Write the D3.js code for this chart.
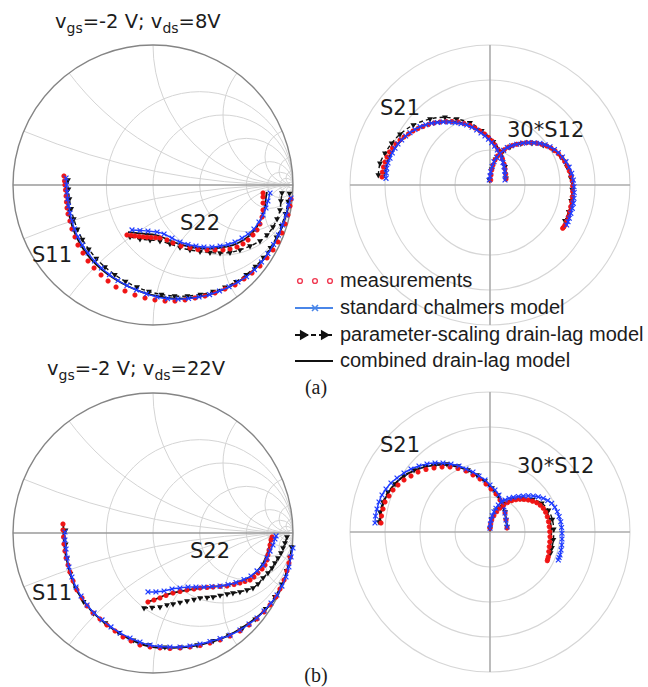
<!DOCTYPE html>
<html>
<head>
<meta charset="utf-8">
<script src="https://cdn.jsdelivr.net/npm/d3@7"></script>
<style>
  html, body { margin: 0; padding: 0; background: #fff; }
  svg { display: block; }
</style>
</head>
<body>
<svg id="fig" width="648" height="687"></svg>
<script>
// ---------------- bias points and labels ----------------
const biasVgs = ["-2", "-2"];
const biasVds = ["8", "22"];
const paramLabels = ["S11", "S22", "S21", "30*S12"];
const panelTags = ["(a)", "(b)"];
const legendLabels = [
  "measurements",
  "standard chalmers model",
  "parameter-scaling drain-lag model",
  "combined drain-lag model"
];

// Smith chart grid values (normalised resistance / reactance)
const gridResistance = [0.5, 1, 2, 5, 10, 20, 50];
const gridReactance = [0.2, 0.5, 1, 2, 5, 10, 20];
// polar chart rings (magnitude)
const polarRings = [1, 2, 3, 4];

// ---------------- bias (a): vgs=-2 V, vds=8 V ----------------
// reflection coefficients [re, im]
const s11MeasA = [[-0.636,0.064],[-0.632,0.029],[-0.629,0.000],[-0.625,-0.036],[-0.621,-0.079],[-0.618,-0.121],[-0.614,-0.164],[-0.607,-0.207],[-0.593,-0.257],[-0.579,-0.314],[-0.557,-0.371],[-0.536,-0.429],[-0.500,-0.486],[-0.464,-0.543],[-0.421,-0.593],[-0.371,-0.643],[-0.321,-0.686],[-0.264,-0.729],[-0.200,-0.757],[-0.129,-0.786],[-0.057,-0.807],[0.014,-0.821],[0.086,-0.829],[0.157,-0.829],[0.229,-0.821],[0.300,-0.807],[0.371,-0.793],[0.443,-0.771],[0.514,-0.743],[0.586,-0.714],[0.650,-0.671],[0.707,-0.629],[0.764,-0.579],[0.814,-0.521],[0.857,-0.464],[0.893,-0.407],[0.921,-0.343],[0.943,-0.279],[0.964,-0.214],[0.979,-0.150],[0.986,-0.100]];
const s11StdA = [[-0.621,0.050],[-0.618,0.000],[-0.614,-0.050],[-0.610,-0.100],[-0.603,-0.150],[-0.593,-0.200],[-0.579,-0.257],[-0.561,-0.314],[-0.536,-0.371],[-0.504,-0.429],[-0.464,-0.486],[-0.418,-0.543],[-0.368,-0.593],[-0.311,-0.640],[-0.250,-0.682],[-0.186,-0.718],[-0.118,-0.750],[-0.046,-0.778],[0.029,-0.800],[0.104,-0.812],[0.179,-0.815],[0.254,-0.811],[0.329,-0.800],[0.404,-0.783],[0.475,-0.757],[0.543,-0.727],[0.607,-0.693],[0.668,-0.655],[0.725,-0.605],[0.775,-0.550],[0.821,-0.490],[0.861,-0.425],[0.896,-0.357],[0.925,-0.286],[0.950,-0.214],[0.968,-0.143],[0.986,-0.093]];
const s11PscA = [[-0.607,0.036],[-0.604,-0.030],[-0.597,-0.100],[-0.585,-0.170],[-0.566,-0.243],[-0.540,-0.316],[-0.504,-0.389],[-0.459,-0.459],[-0.405,-0.525],[-0.343,-0.586],[-0.273,-0.640],[-0.196,-0.689],[-0.114,-0.729],[-0.029,-0.761],[0.061,-0.782],[0.154,-0.793],[0.246,-0.793],[0.339,-0.782],[0.429,-0.761],[0.514,-0.730],[0.593,-0.690],[0.666,-0.640],[0.732,-0.582],[0.789,-0.518],[0.839,-0.448],[0.882,-0.372],[0.918,-0.290],[0.946,-0.205],[0.966,-0.118],[0.975,-0.060]];
const s11CombA = [[-0.625,0.045],[-0.620,-0.050],[-0.610,-0.150],[-0.590,-0.250],[-0.556,-0.350],[-0.507,-0.443],[-0.443,-0.529],[-0.364,-0.605],[-0.275,-0.670],[-0.175,-0.725],[-0.068,-0.768],[0.043,-0.796],[0.157,-0.811],[0.271,-0.807],[0.386,-0.786],[0.496,-0.750],[0.596,-0.700],[0.686,-0.636],[0.764,-0.561],[0.832,-0.475],[0.886,-0.382],[0.929,-0.282],[0.961,-0.179],[0.982,-0.090]];

const s22MeasA = [[-0.186,-0.357],[-0.157,-0.360],[-0.129,-0.364],[-0.100,-0.367],[-0.071,-0.371],[-0.043,-0.373],[-0.014,-0.375],[0.018,-0.377],[0.050,-0.379],[0.100,-0.393],[0.143,-0.414],[0.200,-0.436],[0.264,-0.450],[0.321,-0.461],[0.386,-0.464],[0.443,-0.464],[0.500,-0.464],[0.550,-0.457],[0.600,-0.443],[0.643,-0.421],[0.679,-0.393],[0.714,-0.357],[0.743,-0.321],[0.764,-0.279],[0.779,-0.229],[0.786,-0.179],[0.786,-0.129],[0.786,-0.086],[0.786,-0.057]];
const s22StdA = [[-0.150,-0.321],[-0.093,-0.325],[-0.036,-0.329],[0.029,-0.336],[0.079,-0.350],[0.136,-0.379],[0.193,-0.407],[0.250,-0.425],[0.307,-0.436],[0.364,-0.443],[0.421,-0.443],[0.479,-0.436],[0.536,-0.425],[0.586,-0.407],[0.636,-0.379],[0.679,-0.350],[0.721,-0.314],[0.757,-0.264],[0.786,-0.214],[0.807,-0.164],[0.821,-0.114],[0.836,-0.057]];
const s22PscA = [[-0.164,-0.371],[-0.093,-0.386],[-0.021,-0.393],[0.050,-0.400],[0.121,-0.421],[0.193,-0.446],[0.264,-0.464],[0.336,-0.475],[0.407,-0.482],[0.479,-0.486],[0.550,-0.482],[0.621,-0.464],[0.693,-0.436],[0.764,-0.400],[0.814,-0.357],[0.857,-0.300],[0.886,-0.243],[0.907,-0.179],[0.914,-0.114],[0.921,-0.057]];
const s22CombA = [[-0.179,-0.336],[-0.114,-0.343],[-0.050,-0.350],[0.014,-0.357],[0.071,-0.375],[0.129,-0.400],[0.186,-0.421],[0.250,-0.439],[0.321,-0.450],[0.393,-0.454],[0.464,-0.450],[0.536,-0.439],[0.600,-0.418],[0.657,-0.386],[0.707,-0.343],[0.750,-0.286],[0.779,-0.221],[0.800,-0.150],[0.807,-0.086],[0.814,-0.050]];

// transmission coefficients [re, im]
const s21MeasA = [[-3.086,0.229],[-3.071,0.371],[-3.043,0.514],[-3.000,0.657],[-2.943,0.800],[-2.871,0.943],[-2.786,1.057],[-2.686,1.171],[-2.571,1.286],[-2.457,1.371],[-2.329,1.457],[-2.200,1.543],[-2.057,1.614],[-1.914,1.671],[-1.757,1.729],[-1.600,1.771],[-1.429,1.800],[-1.257,1.814],[-1.086,1.814],[-0.914,1.800],[-0.743,1.757],[-0.571,1.700],[-0.429,1.629],[-0.286,1.543],[-0.157,1.457],[-0.043,1.357],[0.057,1.257],[0.143,1.143],[0.229,1.014],[0.300,0.886],[0.357,0.743],[0.400,0.600],[0.429,0.457],[0.449,0.314],[0.457,0.171]];
const s21StdA = [[-2.971,0.191],[-2.963,0.343],[-2.951,0.477],[-2.914,0.629],[-2.857,0.763],[-2.791,0.914],[-2.714,1.049],[-2.629,1.171],[-2.523,1.286],[-2.409,1.400],[-2.286,1.494],[-2.143,1.586],[-2.000,1.666],[-1.837,1.720],[-1.666,1.763],[-1.500,1.786],[-1.334,1.800],[-1.171,1.794],[-1.000,1.780],[-0.829,1.751],[-0.666,1.714],[-0.514,1.649],[-0.380,1.571],[-0.257,1.486],[-0.143,1.400],[-0.043,1.306],[0.049,1.209],[0.134,1.106],[0.209,1.000],[0.277,0.886],[0.334,0.763],[0.371,0.643],[0.400,0.523],[0.420,0.400],[0.429,0.286],[0.429,0.143]];
const s21PscA = [[-3.191,0.286],[-3.143,0.620],[-3.000,0.906],[-2.809,1.191],[-2.571,1.449],[-2.191,1.714],[-1.714,1.886],[-1.286,1.934],[-0.951,1.886],[-0.571,1.780],[-0.237,1.551],[0.094,1.237],[0.334,0.906],[0.429,0.523],[0.457,0.191]];
const s21CombA = [[-3.030,0.200],[-2.980,0.500],[-2.850,0.850],[-2.620,1.180],[-2.300,1.480],[-1.900,1.700],[-1.450,1.810],[-1.000,1.810],[-0.600,1.710],[-0.220,1.520],[0.100,1.240],[0.320,0.880],[0.430,0.500],[0.460,0.170]];

const s12MeasA = [[0.020,0.143],[0.029,0.286],[0.049,0.429],[0.086,0.571],[0.143,0.714],[0.214,0.829],[0.306,0.923],[0.409,1.009],[0.523,1.077],[0.643,1.129],[0.763,1.163],[0.906,1.191],[1.049,1.209],[1.191,1.209],[1.334,1.191],[1.477,1.163],[1.620,1.114],[1.743,1.057],[1.857,0.980],[1.957,0.891],[2.049,0.791],[2.134,0.671],[2.209,0.543],[2.266,0.400],[2.314,0.257],[2.349,0.114],[2.363,-0.029],[2.363,-0.186],[2.351,-0.334],[2.334,-0.477],[2.306,-0.620],[2.271,-0.763],[2.237,-0.906],[2.191,-1.029],[2.143,-1.143],[2.109,-1.200],[2.077,-1.237]];
const s12StdA = [[-0.020,0.143],[0.000,0.260],[0.020,0.380],[0.060,0.530],[0.114,0.666],[0.190,0.790],[0.286,0.906],[0.390,0.990],[0.494,1.066],[0.620,1.120],[0.763,1.163],[0.930,1.195],[1.094,1.209],[1.260,1.205],[1.429,1.191],[1.575,1.150],[1.714,1.094],[1.840,1.015],[1.951,0.923],[2.070,0.800],[2.171,0.666],[2.260,0.510],[2.334,0.334],[2.380,0.140],[2.400,-0.049],[2.405,-0.215],[2.400,-0.380],[2.380,-0.525],[2.351,-0.666],[2.310,-0.810],[2.266,-0.951],[2.230,-1.050],[2.191,-1.143]];
const s12PscA = [[-0.020,0.150],[0.050,0.450],[0.160,0.740],[0.340,0.960],[0.580,1.100],[0.880,1.180],[1.200,1.200],[1.520,1.140],[1.800,1.010],[2.030,0.800],[2.200,0.520],[2.310,0.200],[2.350,-0.130],[2.320,-0.450],[2.250,-0.760],[2.140,-1.020]];
const s12CombA = [[0.000,0.140],[0.080,0.550],[0.270,0.900],[0.600,1.120],[1.000,1.200],[1.400,1.170],[1.760,1.040],[2.050,0.780],[2.250,0.400],[2.350,0.000],[2.330,-0.400],[2.250,-0.800],[2.120,-1.100]];

// ---------------- bias (b): vgs=-2 V, vds=22 V ----------------
const s11MeasB = [[-0.643,0.064],[-0.643,0.021],[-0.639,-0.029],[-0.636,-0.079],[-0.629,-0.129],[-0.621,-0.179],[-0.607,-0.229],[-0.593,-0.279],[-0.571,-0.343],[-0.543,-0.407],[-0.507,-0.464],[-0.471,-0.521],[-0.429,-0.571],[-0.379,-0.614],[-0.329,-0.657],[-0.271,-0.700],[-0.214,-0.743],[-0.157,-0.771],[-0.093,-0.800],[-0.021,-0.814],[0.050,-0.821],[0.121,-0.825],[0.193,-0.821],[0.264,-0.814],[0.336,-0.804],[0.407,-0.786],[0.479,-0.764],[0.550,-0.736],[0.621,-0.700],[0.686,-0.657],[0.743,-0.614],[0.793,-0.564],[0.836,-0.514],[0.879,-0.457],[0.907,-0.400],[0.936,-0.336],[0.957,-0.271],[0.971,-0.214],[0.979,-0.171]];
const s11StdB = [[-0.629,0.007],[-0.629,-0.050],[-0.621,-0.114],[-0.614,-0.179],[-0.600,-0.243],[-0.579,-0.314],[-0.550,-0.386],[-0.514,-0.450],[-0.471,-0.514],[-0.421,-0.571],[-0.364,-0.621],[-0.300,-0.671],[-0.236,-0.714],[-0.164,-0.750],[-0.093,-0.779],[-0.021,-0.800],[0.050,-0.811],[0.121,-0.814],[0.193,-0.814],[0.264,-0.807],[0.336,-0.793],[0.407,-0.775],[0.479,-0.754],[0.550,-0.729],[0.621,-0.693],[0.686,-0.650],[0.743,-0.607],[0.793,-0.557],[0.843,-0.500],[0.886,-0.443],[0.921,-0.379],[0.950,-0.314],[0.971,-0.243],[0.986,-0.171],[1.000,-0.107]];
const s11PscB = [[-0.625,0.020],[-0.624,-0.080],[-0.614,-0.180],[-0.590,-0.290],[-0.552,-0.395],[-0.496,-0.490],[-0.425,-0.572],[-0.340,-0.643],[-0.245,-0.712],[-0.140,-0.765],[-0.030,-0.800],[0.085,-0.815],[0.200,-0.815],[0.315,-0.800],[0.430,-0.770],[0.540,-0.730],[0.640,-0.680],[0.730,-0.615],[0.805,-0.540],[0.870,-0.455],[0.920,-0.365],[0.955,-0.270],[0.978,-0.175],[0.990,-0.100]];
const s11CombB = [[-0.640,0.060],[-0.635,-0.080],[-0.610,-0.220],[-0.560,-0.380],[-0.470,-0.520],[-0.350,-0.640],[-0.200,-0.740],[-0.030,-0.810],[0.150,-0.820],[0.330,-0.800],[0.500,-0.750],[0.660,-0.660],[0.790,-0.560],[0.890,-0.440],[0.950,-0.300],[0.985,-0.170]];

const s22MeasB = [[-0.036,-0.493],[0.007,-0.479],[0.050,-0.464],[0.093,-0.446],[0.143,-0.429],[0.193,-0.418],[0.243,-0.407],[0.293,-0.400],[0.336,-0.393],[0.386,-0.389],[0.429,-0.386],[0.479,-0.382],[0.529,-0.379],[0.579,-0.368],[0.621,-0.357],[0.657,-0.346],[0.693,-0.336],[0.721,-0.314],[0.750,-0.286],[0.779,-0.257],[0.800,-0.229],[0.814,-0.193],[0.821,-0.157],[0.829,-0.121],[0.836,-0.086],[0.843,-0.050],[0.850,-0.029]];
const s22StdB = [[-0.036,-0.421],[0.021,-0.421],[0.079,-0.414],[0.136,-0.400],[0.193,-0.393],[0.250,-0.386],[0.307,-0.386],[0.364,-0.386],[0.421,-0.382],[0.479,-0.379],[0.536,-0.368],[0.593,-0.354],[0.650,-0.332],[0.700,-0.307],[0.743,-0.271],[0.786,-0.229],[0.814,-0.179],[0.836,-0.129],[0.857,-0.086],[0.871,-0.043],[0.879,-0.021]];
const s22PscB = [[-0.064,-0.536],[-0.007,-0.532],[0.050,-0.529],[0.100,-0.514],[0.143,-0.507],[0.193,-0.496],[0.243,-0.486],[0.293,-0.475],[0.336,-0.464],[0.386,-0.461],[0.429,-0.457],[0.479,-0.446],[0.529,-0.436],[0.571,-0.429],[0.621,-0.421],[0.671,-0.407],[0.714,-0.393],[0.750,-0.364],[0.786,-0.321],[0.821,-0.286],[0.850,-0.250],[0.871,-0.214],[0.893,-0.179],[0.914,-0.143],[0.929,-0.107],[0.943,-0.071],[0.957,-0.029]];
const s22CombB = [[-0.043,-0.493],[0.014,-0.475],[0.071,-0.450],[0.129,-0.432],[0.193,-0.418],[0.264,-0.404],[0.336,-0.393],[0.407,-0.386],[0.479,-0.379],[0.550,-0.368],[0.621,-0.346],[0.686,-0.318],[0.736,-0.279],[0.779,-0.229],[0.807,-0.171],[0.829,-0.107],[0.836,-0.057],[0.843,-0.029]];

const s21MeasB = [[-3.114,0.257],[-3.100,0.457],[-3.057,0.657],[-3.000,0.857],[-2.886,1.029],[-2.771,1.200],[-2.629,1.343],[-2.457,1.486],[-2.257,1.600],[-2.057,1.714],[-1.829,1.786],[-1.600,1.829],[-1.371,1.857],[-1.143,1.857],[-0.914,1.814],[-0.686,1.743],[-0.486,1.629],[-0.286,1.514],[-0.114,1.371],[0.029,1.229],[0.171,1.086],[0.286,0.914],[0.371,0.743],[0.429,0.543],[0.457,0.343],[0.486,0.114]];
const s21StdB = [[-3.286,0.257],[-3.271,0.457],[-3.229,0.657],[-3.171,0.857],[-3.086,1.057],[-2.971,1.229],[-2.829,1.400],[-2.657,1.543],[-2.457,1.686],[-2.257,1.800],[-2.029,1.886],[-1.800,1.943],[-1.571,1.971],[-1.343,1.971],[-1.114,1.943],[-0.886,1.886],[-0.686,1.800],[-0.486,1.714],[-0.314,1.600],[-0.143,1.486],[0.000,1.343],[0.143,1.200],[0.257,1.057],[0.343,0.886],[0.400,0.714],[0.429,0.543],[0.457,0.343],[0.486,0.143]];
const s21PscB = [[-3.171,0.286],[-3.143,0.571],[-3.057,0.857],[-2.914,1.143],[-2.714,1.371],[-2.457,1.600],[-2.171,1.771],[-1.857,1.886],[-1.543,1.943],[-1.229,1.943],[-0.914,1.886],[-0.629,1.771],[-0.371,1.629],[-0.143,1.457],[0.057,1.257],[0.229,1.057],[0.343,0.829],[0.429,0.571],[0.457,0.343],[0.486,0.143]];
const s21CombB = [[-3.140,0.260],[-3.100,0.620],[-2.980,0.980],[-2.780,1.300],[-2.500,1.570],[-2.150,1.760],[-1.750,1.880],[-1.330,1.920],[-0.920,1.860],[-0.550,1.720],[-0.220,1.500],[0.060,1.220],[0.270,0.940],[0.400,0.640],[0.460,0.360],[0.490,0.130]];

const s12MeasB = [[0.000,0.106],[0.020,0.230],[0.049,0.343],[0.110,0.465],[0.191,0.580],[0.280,0.680],[0.380,0.771],[0.500,0.840],[0.620,0.894],[0.740,0.922],[0.857,0.934],[0.975,0.930],[1.094,0.914],[1.215,0.880],[1.334,0.837],[1.435,0.765],[1.523,0.677],[1.590,0.565],[1.637,0.437],[1.672,0.295],[1.694,0.151],[1.708,0.010],[1.714,-0.134],[1.708,-0.280],[1.694,-0.420],[1.680,-0.560],[1.666,-0.706],[1.650,-0.770],[1.637,-0.820]];
const s12StdB = [[0.000,0.106],[0.010,0.230],[0.029,0.343],[0.065,0.465],[0.114,0.580],[0.170,0.680],[0.237,0.771],[0.330,0.850],[0.429,0.914],[0.545,0.960],[0.666,0.991],[0.810,1.015],[0.951,1.029],[1.095,1.033],[1.237,1.029],[1.380,1.003],[1.523,0.963],[1.650,0.900],[1.763,0.820],[1.850,0.705],[1.923,0.580],[1.975,0.440],[2.020,0.294],[2.045,0.130],[2.057,-0.037],[2.057,-0.200],[2.049,-0.371],[2.030,-0.515],[2.000,-0.657],[1.975,-0.730],[1.951,-0.800]];
const s12PscB = [[0.000,0.100],[0.050,0.380],[0.170,0.620],[0.360,0.800],[0.620,0.920],[0.920,0.960],[1.220,0.930],[1.480,0.820],[1.670,0.620],[1.780,0.360],[1.820,0.080],[1.810,-0.220],[1.770,-0.450],[1.730,-0.600]];
const s12CombB = [[0.000,0.100],[0.060,0.400],[0.220,0.660],[0.470,0.840],[0.780,0.930],[1.100,0.920],[1.380,0.830],[1.580,0.640],[1.700,0.380],[1.750,0.080],[1.740,-0.240],[1.710,-0.550],[1.680,-0.750]];

// ---------------- styling ----------------
const RADIUS = 140;
const COL_MEAS = "#f01414";
const COL_STD = "#1f3cff";
const COL_STD_LEGEND = "#4a86e8";
const COL_BLACK = "#111";
const TEXT_COL = "#1c1c1c";
const LABEL_FONT = "'DejaVu Sans', Verdana, sans-serif";
const LEGEND_FONT = "'Liberation Sans', Arial, sans-serif";

const svg = d3.select("#fig");

// Smith chart frame: returns scales centred on the panel
function smithPanel(cx, cy, key) {
  const g = svg.append("g").attr("transform", `translate(${cx},${cy})`);
  const x = d3.scaleLinear().domain([-1, 1]).range([-RADIUS, RADIUS]);
  const y = d3.scaleLinear().domain([-1, 1]).range([RADIUS, -RADIUS]);
  const clipId = "smithclip-" + key;
  g.append("clipPath").attr("id", clipId)
    .append("circle").attr("r", RADIUS);
  const grid = g.append("g")
    .attr("clip-path", `url(#${clipId})`)
    .attr("fill", "none").attr("stroke", "#d4d4d4").attr("stroke-width", 1);
  // constant-resistance circles
  grid.selectAll("circle.res").data(gridResistance).join("circle")
    .attr("class", "res")
    .attr("cx", r => x(r / (1 + r)))
    .attr("cy", y(0))
    .attr("r", r => x(1 / (1 + r)) - x(0));
  // constant-reactance arcs (upper and lower half)
  const arcs = gridReactance.flatMap(v => [v, -v]);
  grid.selectAll("circle.reac").data(arcs).join("circle")
    .attr("class", "reac")
    .attr("cx", x(1))
    .attr("cy", v => y(1 / v))
    .attr("r", v => x(1 / Math.abs(v)) - x(0));
  // real axis and outer boundary
  g.append("line")
    .attr("x1", x(-1)).attr("x2", x(1)).attr("y1", y(0)).attr("y2", y(0))
    .attr("stroke", "#9a9a9a").attr("stroke-width", 1.4);
  g.append("circle").attr("r", x(1) - x(0))
    .attr("fill", "none").attr("stroke", "#858585").attr("stroke-width", 1.4);
  const layer = g.append("g");
  return { g: layer, x, y };
}

// polar frame for transmission parameters
function polarPanel(cx, cy) {
  const g = svg.append("g").attr("transform", `translate(${cx},${cy})`);
  const maxR = d3.max(polarRings);
  const r = d3.scaleLinear().domain([0, maxR]).range([0, RADIUS]);
  const x = d3.scaleLinear().domain([-maxR, maxR]).range([-RADIUS, RADIUS]);
  const y = d3.scaleLinear().domain([-maxR, maxR]).range([RADIUS, -RADIUS]);
  g.selectAll("circle.ring").data(polarRings).join("circle")
    .attr("class", "ring")
    .attr("r", d => r(d))
    .attr("fill", "none").attr("stroke", "#d6d6d6").attr("stroke-width", 1.1);
  g.append("line").attr("x1", x(-maxR)).attr("x2", x(maxR)).attr("y1", y(0)).attr("y2", y(0))
    .attr("stroke", "#ababab").attr("stroke-width", 1.6);
  g.append("line").attr("x1", x(0)).attr("x2", x(0)).attr("y1", y(maxR)).attr("y2", y(-maxR))
    .attr("stroke", "#ababab").attr("stroke-width", 1.6);
  const layer = g.append("g");
  return { g: layer, x, y };
}

function lineGen(p) {
  return d3.line().x(d => p.x(d[0])).y(d => p.y(d[1])).curve(d3.curveCatmullRom);
}

const crossPath = "M-2.4,-2.4L2.4,2.4M-2.4,2.4L2.4,-2.4";
const triDown = d3.symbol().type(d3.symbolTriangle).size(15)();

function drawMeas(p, data) {
  p.g.append("g").selectAll("circle").data(data).join("circle")
    .attr("cx", d => p.x(d[0])).attr("cy", d => p.y(d[1]))
    .attr("r", 2.2)
    .attr("fill", COL_MEAS).attr("stroke", COL_MEAS).attr("stroke-width", 0.8);
}
function drawStd(p, data) {
  p.g.append("path").datum(data).attr("d", lineGen(p))
    .attr("fill", "none").attr("stroke", COL_STD).attr("stroke-width", 1.4);
  p.g.append("g").selectAll("path").data(data).join("path")
    .attr("d", crossPath)
    .attr("transform", d => `translate(${p.x(d[0])},${p.y(d[1])})`)
    .attr("stroke", COL_STD).attr("stroke-width", 1.2).attr("fill", "none");
}
function drawPsc(p, data) {
  p.g.append("path").datum(data).attr("d", lineGen(p))
    .attr("fill", "none").attr("stroke", COL_BLACK).attr("stroke-width", 1.4)
    .attr("stroke-dasharray", "4,3");
  p.g.append("g").selectAll("path").data(data).join("path")
    .attr("d", triDown)
    .attr("transform", d => `translate(${p.x(d[0])},${p.y(d[1])}) rotate(180)`)
    .attr("fill", COL_BLACK);
}
function drawComb(p, data) {
  p.g.append("path").datum(data).attr("d", lineGen(p))
    .attr("fill", "none").attr("stroke", COL_BLACK).attr("stroke-width", 1.8);
}

function drawSet(p, comb, psc, meas, std) {
  drawComb(p, comb);
  drawPsc(p, psc);
  drawMeas(p, meas);
  drawStd(p, std);
}

function label(x, y, text) {
  svg.append("text").attr("x", x).attr("y", y)
    .attr("font-family", LABEL_FONT).attr("font-size", 21)
    .attr("fill", TEXT_COL).text(text);
}

function title(x, y, vgs, vds) {
  const t = svg.append("text").attr("x", x).attr("y", y)
    .attr("font-family", LABEL_FONT).attr("font-size", 19.5).attr("fill", TEXT_COL);
  t.append("tspan").text("v");
  t.append("tspan").attr("font-size", 14).attr("dy", 5).text("gs");
  t.append("tspan").attr("dy", -5).text("=" + vgs + " V; v");
  t.append("tspan").attr("font-size", 14).attr("dy", 5).text("ds");
  t.append("tspan").attr("dy", -5).text("=" + vds + "V");
}

// ---------------- panel (a) ----------------
const smithA = smithPanel(153, 185, "a");
drawSet(smithA, s11CombA, s11PscA, s11MeasA, s11StdA);
drawSet(smithA, s22CombA, s22PscA, s22MeasA, s22StdA);

const polarA = polarPanel(490, 185);
drawSet(polarA, s21CombA, s21PscA, s21MeasA, s21StdA);
drawSet(polarA, s12CombA, s12PscA, s12MeasA, s12StdA);

title(55, 28, biasVgs[0], biasVds[0]);
label(32, 262, paramLabels[0]);
label(180, 230, paramLabels[1]);
label(380, 115, paramLabels[2]);
label(507, 137, paramLabels[3]);

// ---------------- panel (b) ----------------
const smithB = smithPanel(153, 533, "b");
drawSet(smithB, s11CombB, s11PscB, s11MeasB, s11StdB);
drawSet(smithB, s22CombB, s22PscB, s22MeasB, s22StdB);

const polarB = polarPanel(490, 532);
drawSet(polarB, s21CombB, s21PscB, s21MeasB, s21StdB);
drawSet(polarB, s12CombB, s12PscB, s12MeasB, s12StdB);

title(47, 375, biasVgs[1], biasVds[1]);
label(32, 600, paramLabels[0]);
label(190, 558, paramLabels[1]);
label(380, 452, paramLabels[2]);
label(517, 473, paramLabels[3]);

// ---------------- legend ----------------
const legend = svg.append("g");
const legY = [281, 308, 335, 361];
const lx0 = 295, lx1 = 333;
// measurements: three open circles
legend.selectAll("circle.lm").data([300, 315, 330]).join("circle")
  .attr("class", "lm").attr("cx", d => d).attr("cy", legY[0]).attr("r", 2.4)
  .attr("fill", "none").attr("stroke", "#f03a52").attr("stroke-width", 1.4);
// standard model: line with a cross
legend.append("line").attr("x1", lx0).attr("x2", lx1).attr("y1", legY[1]).attr("y2", legY[1])
  .attr("stroke", COL_STD_LEGEND).attr("stroke-width", 2);
legend.append("path").attr("d", "M-3,-3L3,3M-3,3L3,-3")
  .attr("transform", `translate(315,${legY[1]})`)
  .attr("stroke", COL_STD_LEGEND).attr("stroke-width", 1.6);
// parameter-scaling model: dashed line with arrow heads
legend.append("line").attr("x1", lx0).attr("x2", lx1).attr("y1", legY[2]).attr("y2", legY[2])
  .attr("stroke", COL_BLACK).attr("stroke-width", 2).attr("stroke-dasharray", "5,3");
legend.selectAll("path.lt").data([303, 324]).join("path")
  .attr("class", "lt")
  .attr("d", d3.symbol().type(d3.symbolTriangle).size(48)())
  .attr("transform", d => `translate(${d},${legY[2]}) rotate(90)`)
  .attr("fill", COL_BLACK);
// combined model: solid line
legend.append("line").attr("x1", lx0).attr("x2", lx1).attr("y1", legY[3]).attr("y2", legY[3])
  .attr("stroke", COL_BLACK).attr("stroke-width", 2);

legend.selectAll("text").data(legendLabels).join("text")
  .attr("x", 340).attr("y", (d, i) => legY[i] + 5.5)
  .attr("font-family", LEGEND_FONT).attr("font-size", 20)
  .attr("fill", TEXT_COL).text(d => d);

// panel tags
svg.selectAll("text.tag").data(panelTags).join("text")
  .attr("class", "tag")
  .attr("x", 316).attr("y", (d, i) => [394, 682][i])
  .attr("text-anchor", "middle")
  .attr("font-family", "'Liberation Serif', 'Times New Roman', serif")
  .attr("font-size", 20).attr("fill", TEXT_COL).text(d => d);
</script>
</body>
</html>
